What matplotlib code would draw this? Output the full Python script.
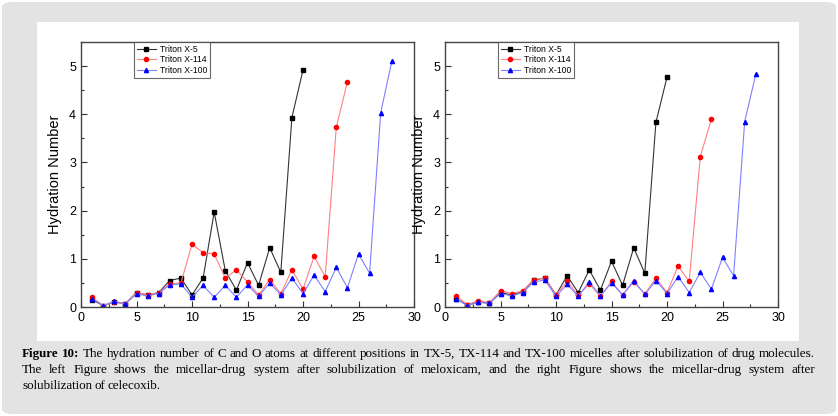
import numpy as np
import matplotlib.pyplot as plt
from matplotlib.patches import Rectangle, FancyBboxPatch
from matplotlib.ticker import MultipleLocator

# Hydration number per position
# left panel: meloxicam
left_tx5 = [0.15, 0.03, 0.10, 0.07, 0.30, 0.25, 0.30, 0.55, 0.60, 0.25,
            0.60, 1.97, 0.75, 0.35, 0.92, 0.45, 1.23, 0.72, 3.93, 4.92]
left_tx114 = [0.20, 0.03, 0.10, 0.07, 0.30, 0.25, 0.30, 0.48, 0.50, 1.30,
              1.13, 1.10, 0.60, 0.77, 0.52, 0.25, 0.57, 0.28, 0.77, 0.37,
              1.05, 0.63, 3.73, 4.67]
left_tx100 = [0.17, 0.03, 0.12, 0.07, 0.27, 0.23, 0.28, 0.46, 0.48, 0.20,
              0.45, 0.20, 0.45, 0.20, 0.46, 0.22, 0.50, 0.25, 0.60, 0.28,
              0.66, 0.32, 0.82, 0.40, 1.10, 0.70, 4.03, 5.10]

# right panel: celecoxib
right_tx5 = [0.17, 0.04, 0.10, 0.08, 0.30, 0.25, 0.32, 0.56, 0.60, 0.25,
             0.65, 0.30, 0.77, 0.35, 0.95, 0.45, 1.23, 0.70, 3.83, 4.77]
right_tx114 = [0.23, 0.05, 0.13, 0.09, 0.34, 0.28, 0.33, 0.57, 0.60, 0.25,
               0.53, 0.25, 0.48, 0.22, 0.53, 0.25, 0.52, 0.27, 0.60, 0.30,
               0.85, 0.53, 3.12, 3.90]
right_tx100 = [0.17, 0.03, 0.10, 0.08, 0.28, 0.23, 0.30, 0.52, 0.56, 0.22,
               0.47, 0.22, 0.52, 0.23, 0.50, 0.25, 0.55, 0.26, 0.55, 0.28,
               0.63, 0.30, 0.72, 0.37, 1.03, 0.65, 3.85, 4.83]

labels = ['Triton X-5', 'Triton X-114', 'Triton X-100']

caption = [
    "Figure 10: The hydration number of C and O atoms at different positions in TX-5, TX-114 and TX-100 micelles after solubilization of drug molecules.",
    "The left Figure shows the micellar-drug system after solubilization of meloxicam, and the right Figure shows the micellar-drug system after",
    "solubilization of celecoxib.",
]

plt.rcParams['font.family'] = ['Liberation Sans', 'DejaVu Sans']

W, H = 838, 416
fig = plt.figure(figsize=(W / 100, H / 100), dpi=100, facecolor='white')

# grey card with a white plot area
fig.patches.append(FancyBboxPatch((2 / W, 2 / H), 834 / W, 412 / H,
                                  boxstyle='round,pad=0,rounding_size=0.012',
                                  transform=fig.transFigure, facecolor='#e3e3e3',
                                  edgecolor='none', zorder=-2))
fig.patches.append(Rectangle((37 / W, 1 - 341 / H), (799 - 37) / W, (341 - 22) / H,
                             transform=fig.transFigure, facecolor='white',
                             edgecolor='none', zorder=-1))


def panel(x0, data):
    ax = fig.add_axes([x0 / W, 1 - 307 / H, 333 / W, 265 / H])
    styles = [('#333333', '#000000', 's'), ('#ff8080', '#ff0000', 'o'), ('#8080ff', '#0000ff', '^')]
    for ys, lab, (lc, mc, mk) in zip(data, labels, styles):
        x = np.arange(1, len(ys) + 1)
        ax.plot(x, ys, color=lc, lw=0.8, marker=mk, ms=3, mfc=mc, mec=mc, label=lab)
    ax.set_xlim(0, 30)
    ax.set_ylim(0, 5.5)
    ax.xaxis.set_major_locator(MultipleLocator(5))
    ax.xaxis.set_minor_locator(MultipleLocator(2.5))
    ax.yaxis.set_major_locator(MultipleLocator(1))
    ax.yaxis.set_minor_locator(MultipleLocator(0.5))
    ax.tick_params(which='both', direction='in', labelsize=9, width=0.8, color='#333333')
    ax.tick_params(which='major', length=4)
    ax.tick_params(which='minor', length=2)
    for s in ax.spines.values():
        s.set_color('#444444')
        s.set_linewidth(1.0)
    ax.set_ylabel('Hydration Number', fontsize=10.5, labelpad=5)
    leg = ax.legend(loc='upper left', bbox_to_anchor=(0.16, 1.0), fontsize=6.2,
                    frameon=True, fancybox=False, edgecolor='#444444',
                    handlelength=2.2, borderpad=0.3, labelspacing=0.2,
                    handletextpad=0.5, borderaxespad=0)
    leg.get_frame().set_linewidth(0.8)
    return ax


panel(81, [left_tx5, left_tx114, left_tx100])
panel(445, [right_tx5, right_tx114, right_tx100])

# caption, justified between x=22 and x=815 (last line left-aligned)
fig.canvas.draw()
renderer = fig.canvas.get_renderer()
cap_left, cap_right, cap_fs = 22, 815, 9.4
for i, line in enumerate(caption):
    y = 1 - (354 + i * 16) / H
    words = line.split(' ')
    texts = []
    for j, w in enumerate(words):
        bold = i == 0 and j < 2
        t = fig.text(0, y, w, fontsize=cap_fs, family=['Liberation Serif'],
                     fontweight='bold' if bold else 'normal', va='center')
        texts.append(t)
    widths = [t.get_window_extent(renderer).width for t in texts]
    if i < len(caption) - 1:
        gap = (cap_right - cap_left - sum(widths)) / (len(words) - 1)
    else:
        gap = cap_fs * 0.25
    x = cap_left
    for t, w in zip(texts, widths):
        t.set_x(x / W)
        x += w + gap

fig.savefig('out.png', dpi=100, facecolor=fig.get_facecolor())
